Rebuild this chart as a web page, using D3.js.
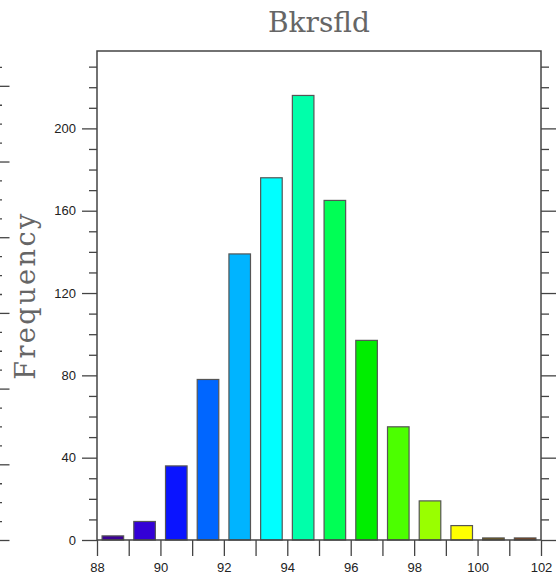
<!DOCTYPE html>
<html>
<head>
<meta charset="utf-8">
<script src="https://cdn.jsdelivr.net/npm/d3@7"></script>
<style>
  body { margin: 0; background: #fff; }
  svg { display: block; }
</style>
</head>
<body>
<svg></svg>
<script>
// histogram data
let binCenters = [88.5, 89.5, 90.5, 91.5, 92.5, 93.5, 94.5, 95.5, 96.5, 97.5, 98.5, 99.5, 100.5, 101.5];
let counts = [2, 9, 36, 78, 139, 176, 216, 165, 97, 55, 19, 7, 1, 1];
let barColors = ["#3c0096", "#3300d6", "#0a14ff", "#0066ff", "#00b4ff", "#00ffff", "#00ffaa",
                 "#00ff55", "#00ee00", "#4cff00", "#99ff00", "#ffff00", "#7a5a00", "#8b3a00"];
let xTicks = [88, 90, 92, 94, 96, 98, 100, 102];
let yTicks = [0, 40, 80, 120, 160, 200];
let title = "Bkrsfld";
let yTitle = "Frequency";

let drawChart = function() {

	const width = 560;
	const height = 581;
	const left = 97, right = 541, top = 51, bottom = 540;
	const axisColor = "#444";

	let svg = d3.select("svg")
		.attr("width", width)
		.attr("height", height)

	let xScale = d3.scaleLinear()
		.domain([88, 102])
		.range([left, right])

	// y max is 10% above the tallest bar
	let yScale = d3.scaleLinear()
		.domain([0, d3.max(counts) * 1.1])
		.range([bottom, top])

	let binWidth = xScale(1) - xScale(0);
	let barWidth = binWidth * 0.68;

	// bars
	svg.append("g")
		.selectAll("rect")
		.data(counts)
		.enter()
		.append("rect")
			.attr("x", (d, i) => xScale(binCenters[i]) - barWidth / 2)
			.attr("y", d => yScale(d))
			.attr("width", barWidth)
			.attr("height", d => yScale(0) - yScale(d))
			.attr("fill", (d, i) => barColors[i])
			.attr("stroke", "#555")
			.attr("stroke-width", 1.2)

	let minorY = d3.range(10, 240, 10).filter(v => v % 40 !== 0);
	let allX = d3.range(88, 103, 1);

	function styleAxis(g) {
		g.select(".domain").remove();
		g.selectAll("line").attr("stroke", axisColor).attr("stroke-width", 1.3);
		g.selectAll("text")
			.attr("fill", "#222")
			.style("font-family", "'Liberation Sans', Arial, sans-serif")
			.style("font-size", "13px");
	}

	// left axis, major + minor
	svg.append("g")
		.attr("transform", `translate(${left},0)`)
		.call(d3.axisLeft(yScale).tickValues(yTicks).tickSize(15).tickPadding(6).tickFormat(d3.format("d")))
		.call(styleAxis)
	svg.append("g")
		.attr("transform", `translate(${left},0)`)
		.call(d3.axisLeft(yScale).tickValues(minorY).tickSize(8).tickFormat(""))
		.call(styleAxis)

	// right axis, no labels
	svg.append("g")
		.attr("transform", `translate(${right},0)`)
		.call(d3.axisRight(yScale).tickValues(yTicks).tickSize(15).tickFormat(""))
		.call(styleAxis)
	svg.append("g")
		.attr("transform", `translate(${right},0)`)
		.call(d3.axisRight(yScale).tickValues(minorY).tickSize(8).tickFormat(""))
		.call(styleAxis)

	// bottom axis, a tick at every unit, labels on even ones
	svg.append("g")
		.attr("transform", `translate(0,${bottom})`)
		.call(d3.axisBottom(xScale).tickValues(allX).tickSize(16).tickPadding(7)
			.tickFormat(d => xTicks.includes(d) ? d : ""))
		.call(styleAxis)

	// frame
	svg.append("rect")
		.attr("x", left)
		.attr("y", top)
		.attr("width", right - left)
		.attr("height", bottom - top)
		.attr("fill", "none")
		.attr("stroke", axisColor)
		.attr("stroke-width", 1.5)

	// right axis of the neighbouring panel, cut by the left edge
	let neighbourY = d3.scaleLinear()
		.domain([0, 129.2])
		.range([bottom, top])
	svg.append("g")
		.attr("transform", "translate(-6,0)")
		.call(d3.axisRight(neighbourY).tickValues(d3.range(0, 121, 20)).tickSize(15.5).tickFormat(""))
		.call(styleAxis)
	svg.append("g")
		.attr("transform", "translate(-6,0)")
		.call(d3.axisRight(neighbourY).tickValues(d3.range(5, 126, 5).filter(v => v % 20 !== 0)).tickSize(8).tickFormat(""))
		.call(styleAxis)

	// title
	svg.append("text")
		.attr("x", (left + right) / 2)
		.attr("y", 32)
		.attr("text-anchor", "middle")
		.attr("fill", "#666")
		.style("font-family", "'DejaVu Serif', serif")
		.style("font-size", "28px")
		.text(title)

	// y-axis title
	svg.append("text")
		.attr("transform", `translate(35,${(top + bottom) / 2}) rotate(-90)`)
		.attr("text-anchor", "middle")
		.attr("fill", "#666")
		.style("font-family", "'DejaVu Serif', serif")
		.style("font-size", "27px")
		.style("letter-spacing", "2.5px")
		.text(yTitle)
}

document.addEventListener("DOMContentLoaded", drawChart);
</script>
</body>
</html>
